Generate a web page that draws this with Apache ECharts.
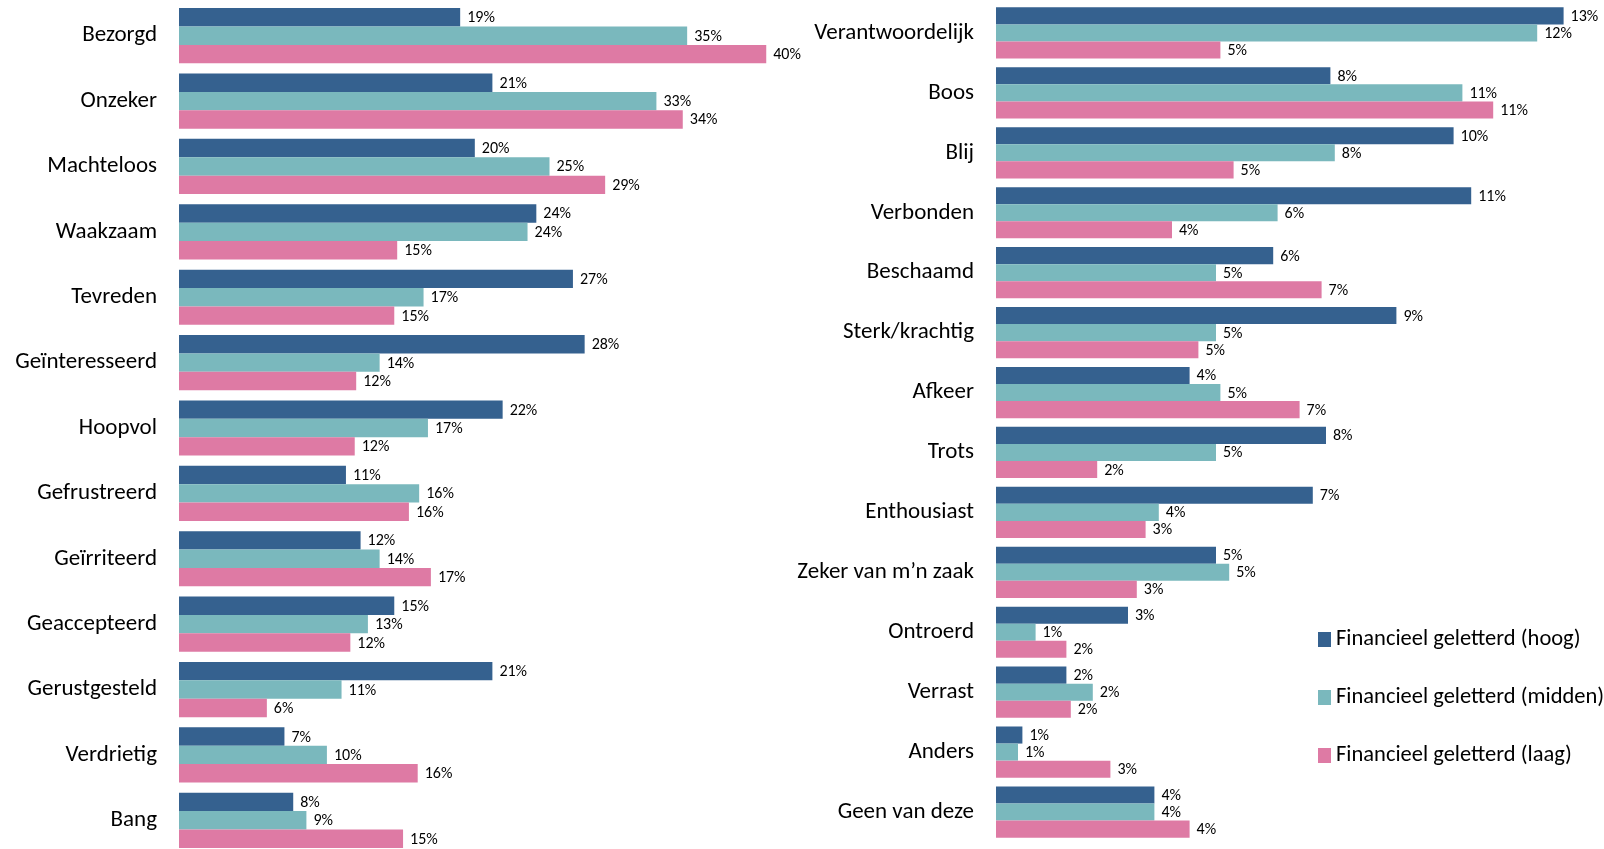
<!DOCTYPE html>
<html>
<head>
<meta charset="utf-8">
<script src="https://cdn.jsdelivr.net/npm/echarts@6/dist/echarts.min.js"></script>
<style>
  html, body { margin: 0; padding: 0; background: #fff; }
  #emoties { width: 1604px; height: 849px; }
</style>
</head>
<body>
<div id="emoties"></div>
<script>
  // [emotie, hoog, midden, laag] in %
  const links = [
    ['Bezorgd', 19.2, 34.7, 40.1],
    ['Onzeker', 21.4, 32.6, 34.4],
    ['Machteloos', 20.2, 25.3, 29.1],
    ['Waakzaam', 24.4, 23.8, 14.9],
    ['Tevreden', 26.9, 16.7, 14.7],
    ['Geïnteresseerd', 27.7, 13.7, 12.1],
    ['Hoopvol', 22.1, 17.0, 12.0],
    ['Gefrustreerd', 11.4, 16.4, 15.7],
    ['Geïrriteerd', 12.4, 13.7, 17.2],
    ['Geaccepteerd', 14.7, 12.9, 11.7],
    ['Gerustgesteld', 21.4, 11.1, 6.0],
    ['Verdrietig', 7.2, 10.1, 16.3],
    ['Bang', 7.8, 8.7, 15.3]
  ];
  const rechts = [
    ['Verantwoordelijk', 12.9, 12.3, 5.1],
    ['Boos', 7.6, 10.6, 11.3],
    ['Blij', 10.4, 7.7, 5.4],
    ['Verbonden', 10.8, 6.4, 4.0],
    ['Beschaamd', 6.3, 5.0, 7.4],
    ['Sterk/krachtig', 9.1, 5.0, 4.6],
    ['Afkeer', 4.4, 5.1, 6.9],
    ['Trots', 7.5, 5.0, 2.3],
    ['Enthousiast', 7.2, 3.7, 3.4],
    ['Zeker van m\u2019n zaak', 5.0, 5.3, 3.2],
    ['Ontroerd', 3.0, 0.9, 1.6],
    ['Verrast', 1.6, 2.2, 1.7],
    ['Anders', 0.6, 0.5, 2.6],
    ['Geen van deze', 3.6, 3.6, 4.4]
  ];
  const groepen = ['Financieel geletterd (hoog)', 'Financieel geletterd (midden)', 'Financieel geletterd (laag)'];
  const kleuren = ['#35618f', '#7ab8bd', '#de7aa4'];
  const font = 'Carlito, Lato, sans-serif';

  const series = [];
  [links, rechts].forEach(function (tabel, g) {
    groepen.forEach(function (naam, i) {
      series.push({
        name: naam,
        type: 'bar',
        xAxisIndex: g,
        yAxisIndex: g,
        barGap: '0%',
        barCategoryGap: g === 0 ? '15.6%' : '14.5%',
        itemStyle: { color: kleuren[i] },
        label: {
          show: true,
          position: 'right',
          distance: 7,
          offset: [0, 1],
          color: '#000',
          fontFamily: font,
          fontSize: 16,
          formatter: function (p) { return Math.round(p.value) + '%'; }
        },
        data: tabel.map(function (r) { return r[i + 1]; })
      });
    });
  });

  const yAs = function (tabel, g) {
    return {
      type: 'category',
      gridIndex: g,
      inverse: true,
      data: tabel.map(function (r) { return r[0]; }),
      axisLine: { show: false },
      axisTick: { show: false },
      axisLabel: { color: '#000', fontFamily: font, fontSize: 23, margin: 22 }
    };
  };

  let myChart = echarts.init(document.getElementById('emoties'));
  myChart.setOption({
    animation: false,
    legend: {
      data: groepen,
      orient: 'vertical',
      left: 1313,
      top: 623,
      itemGap: 35,
      itemWidth: 13,
      itemHeight: 15,
      icon: 'rect',
      textStyle: { color: '#000', fontFamily: font, fontSize: 22.5, padding: [0, 0, 0, 0] }
    },
    grid: [
      { left: 179, top: 3, width: 659, height: 850, outerBoundsMode: 'none' },
      { left: 996, top: 3, width: 594, height: 839, outerBoundsMode: 'none' }
    ],
    xAxis: [
      { type: 'value', gridIndex: 0, min: 0, max: 45, show: false, splitLine: { show: false } },
      { type: 'value', gridIndex: 1, min: 0, max: 13.5, show: false, splitLine: { show: false } }
    ],
    yAxis: [yAs(links, 0), yAs(rechts, 1)],
    series: series
  });

  window.addEventListener('resize', function () {
    myChart.resize();
  });
</script>
</body>
</html>
